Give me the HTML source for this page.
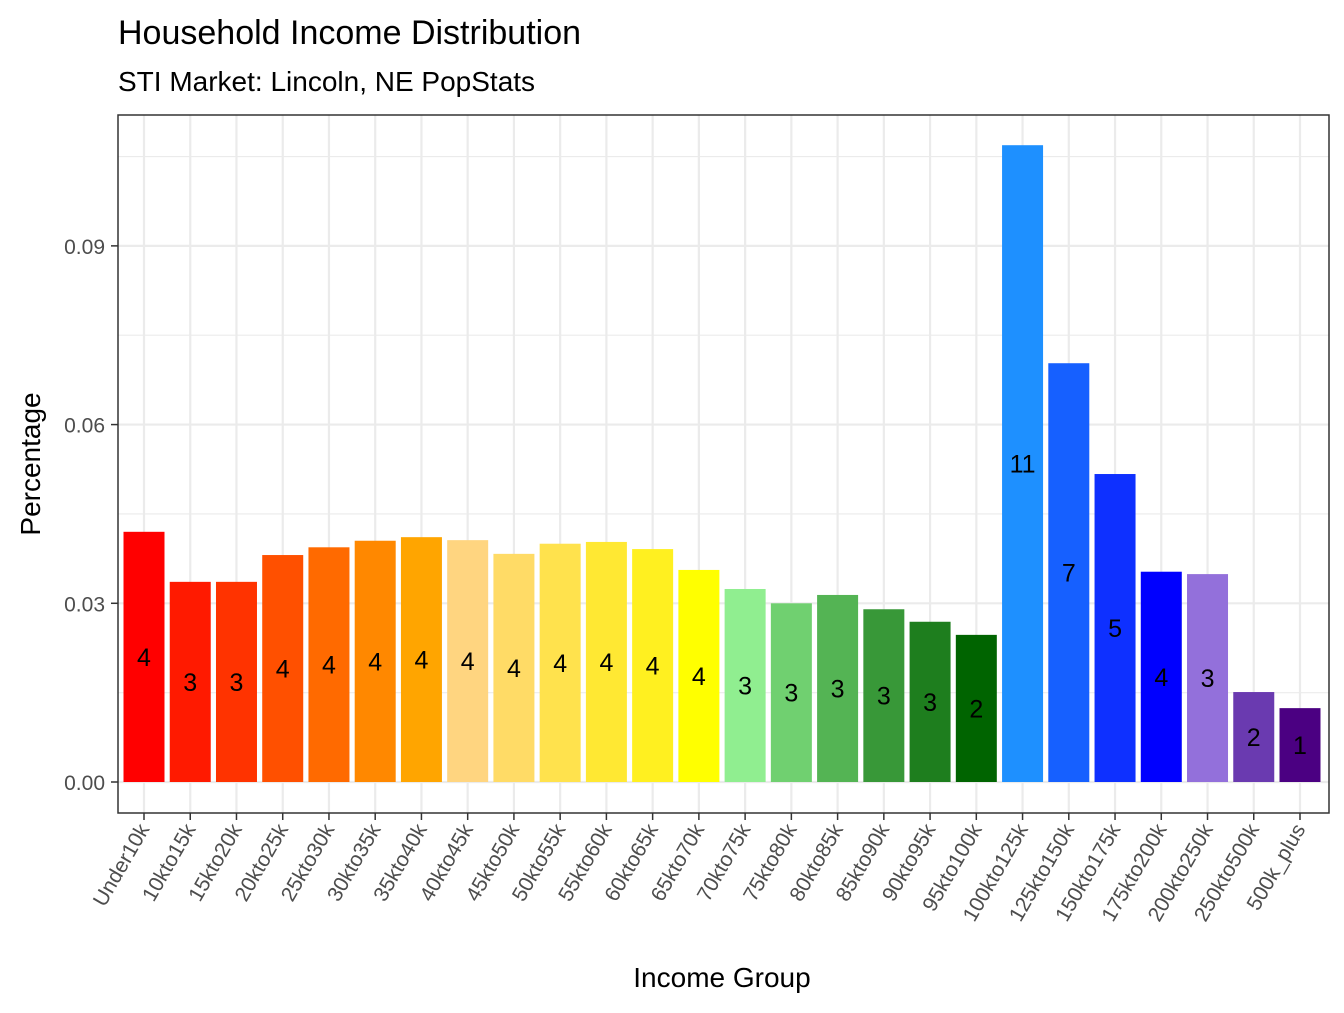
<!DOCTYPE html>
<html><head><meta charset="utf-8"><style>
body{margin:0;background:#fff;font-family:"Liberation Sans",Arial,sans-serif}
</style></head><body>
<svg id="chart" width="1344" height="1008" xmlns="http://www.w3.org/2000/svg" font-family="Liberation Sans, Arial, sans-serif">
<text x="118" y="44" font-size="34" fill="#000">Household Income Distribution</text>
<text x="118" y="91" font-size="28" fill="#000">STI Market: Lincoln, NE PopStats</text>
<rect x="118" y="115" width="1211" height="698" fill="#fff"/>
<g id="grid"></g><g id="bars"></g><g id="labels"></g>
<rect x="118" y="115" width="1211" height="698" fill="none" stroke="#333" stroke-width="1.5"/>
<g id="yaxis"></g><g id="xaxis"></g>
<text transform="translate(40,464) rotate(-90)" text-anchor="middle" font-size="28" fill="#000">Percentage</text>
<text x="722" y="987" text-anchor="middle" font-size="28" fill="#000">Income Group</text>
</svg>
<script>
const categories=["Under10k","10kto15k","15kto20k","20kto25k","25kto30k","30kto35k","35kto40k","40kto45k","45kto50k","50kto55k","55kto60k","60kto65k","65kto70k","70kto75k","75kto80k","80kto85k","85kto90k","90kto95k","95kto100k","100kto125k","125kto150k","150kto175k","175kto200k","200kto250k","250kto500k","500k_plus"];
const values=[0.0420,0.0336,0.0336,0.0381,0.0394,0.0405,0.0411,0.0406,0.0383,0.0400,0.0403,0.0391,0.0356,0.0324,0.0300,0.0314,0.0290,0.0269,0.0247,0.1069,0.0703,0.0517,0.0353,0.0349,0.0151,0.0124];
const colors=["#FF0000","#FF1A00","#FF3300","#FF5000","#FF6A00","#FF8800","#FFA500","#FFD580","#FFDB66","#FFE24D","#FFE833","#FFF020","#FFFF00","#90EE90","#70D070","#54B454","#389838","#1E7E1E","#006400","#1E90FF","#1660FF","#0E30FF","#0000FF","#9370DB","#6A3AB0","#4B0082"];
const yTicks=[0,0.03,0.06,0.09];
const yTickLabels=["0.00","0.03","0.06","0.09"];
const NS="http://www.w3.org/2000/svg";
const y=v=>782-v*5957;
const x=i=>144+i*46.24;
const bw=41;
function mk(tag,attrs,parent){const e=document.createElementNS(NS,tag);for(const k in attrs)e.setAttribute(k,attrs[k]);document.getElementById(parent).appendChild(e);return e;}
// grid
for(let t=0;t<=0.105;t+=0.015){const major=Math.round(t/0.015)%2===0;
 const l=mk("line",{x1:118,x2:1329,y1:y(t),y2:y(t),stroke:"#ebebeb","stroke-width":major?2.2:1.1},"grid");
 
 }
categories.forEach((c,i)=>{const l=mk("line",{x1:x(i),x2:x(i),y1:115,y2:813,stroke:"#ebebeb","stroke-width":2.2},"grid");
 
 });
// bars
categories.forEach((c,i)=>{const v=values[i];
 const r=mk("rect",{x:x(i)-bw/2,y:y(v),width:bw,height:y(0)-y(v),fill:colors[i]},"bars");
 
 
 const t=mk("text",{x:x(i),y:y(v/2)+9,"text-anchor":"middle","font-size":25,fill:"#000"},"labels");
 t.textContent=Math.round(v*100);
 
 
 const tk=mk("line",{x1:x(i),x2:x(i),y1:813,y2:820,stroke:"#333","stroke-width":1.5},"xaxis");
 
 
 const tl=mk("text",{transform:`translate(${x(i)+6},${829}) rotate(-60)`,"text-anchor":"end","font-size":21,fill:"#4d4d4d"},"xaxis");
 tl.textContent=c;
 
 });
yTicks.forEach((t,i)=>{const tk=mk("line",{x1:111,x2:118,y1:y(t),y2:y(t),stroke:"#333","stroke-width":1.5},"yaxis");
 
 
 const tl=mk("text",{x:105,y:y(t)+8,"text-anchor":"end","font-size":21,fill:"#4d4d4d"},"yaxis");
 tl.textContent=yTickLabels[i];
 
 });
</script>
</body></html>
